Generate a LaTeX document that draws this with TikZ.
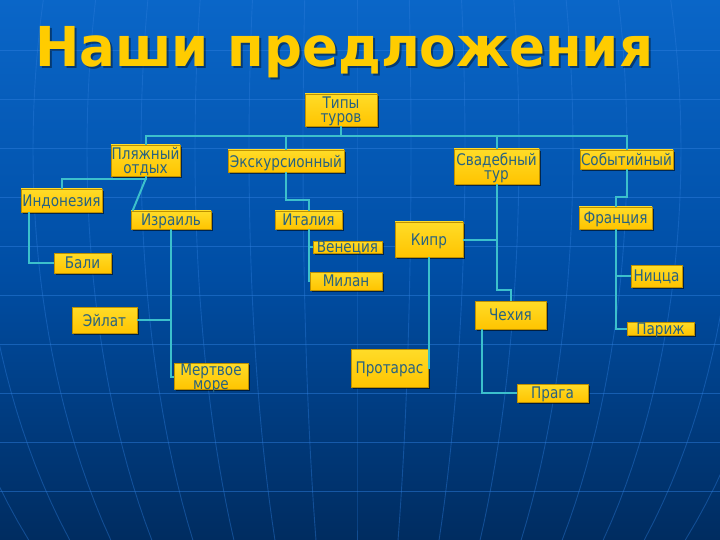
\documentclass[tikz,border=0pt]{standalone}
\usepackage{fontspec}
\setmainfont{DejaVu Sans}
\newfontfamily\boxfont[FakeStretch=0.85]{DejaVu Sans}
\newfontfamily\titlefont[FakeStretch=0.965]{DejaVu Sans}
\usetikzlibrary{shadows}
\definecolor{bgtop}{RGB}{10,102,200}
\definecolor{bgmid}{RGB}{0,78,165}
\definecolor{bgbot}{RGB}{0,44,96}
\definecolor{gridc}{RGB}{45,125,220}
\definecolor{linkc}{RGB}{60,192,204}
\definecolor{boxtop}{RGB}{255,220,40}
\definecolor{boxbot}{RGB}{255,196,0}
\definecolor{boxedge}{RGB}{190,145,0}
\definecolor{boxtext}{RGB}{40,98,128}
\definecolor{titlec}{RGB}{255,204,0}
\tikzset{
  bx/.style={draw=boxedge, line width=0.7pt, top color=boxtop, bottom color=boxbot,
    inner sep=0pt, align=center, text=boxtext, text depth=0pt,
    font=\boxfont\fontsize{16}{14}\selectfont,
    drop shadow={shadow xshift=1.6pt, shadow yshift=-1.6pt, opacity=0.55, fill=black}},
  link/.style={draw=linkc, line width=2pt},
  gridline/.style={draw=gridc, line width=0.9pt, opacity=0.5}
}
\newcommand\bxnode[6]{%
  \node[bx, minimum width={(#4-#2)*1pt}, minimum height={(#5-#3)*1pt}]
    (#1) at ({(#2+#4)/2},{(#3+#5)/2}) {#6};}
\begin{document}
\begin{tikzpicture}[x=1pt,y=-1pt]
\useasboundingbox (0,0) rectangle (720,540);
% background
\shade[top color=bgtop, bottom color=bgbot, middle color=bgmid] (0,0) rectangle (720,540);
\begin{scope}
\clip (0,0) rectangle (720,540);
\foreach \k in {1,...,10} \draw[gridline] (0,{1+49*\k}) -- (720,{1+49*\k});
\foreach \i in {-8,...,8}
  \draw[gridline, opacity=0.4] plot[domain=0:540, samples=30, variable=\t]
    ({357+\i*54*sqrt(1-((\t-150)/600)^2)}, \t);
\end{scope}
% title
\node[anchor=base west, inner sep=0pt, text=black, opacity=0.4,
  font=\titlefont\bfseries\fontsize{55}{55}\selectfont] (titleshadow) at (37,69) {Наши предложения};
\node[anchor=base west, inner sep=0pt, text=titlec,
  font=\titlefont\bfseries\fontsize{55}{55}\selectfont] (title) at (35,67) {Наши предложения};
% connectors
\coordinate (j0) at (341,136);
% boxes
\bxnode{tipy}{305}{94}{377}{126}{Типы\\туров}
\bxnode{plyazh}{111}{145}{180}{176}{Пляжный\\отдых}
\bxnode{ekskurs}{228}{150}{344}{172}{Экскурсионный}
\bxnode{svad}{454}{149}{539}{184}{Свадебный\\тур}
\bxnode{sobyt}{580}{150}{673}{169}{Событийный}
\bxnode{indo}{21}{189}{102}{212}{Индонезия}
\bxnode{israil}{131}{211}{211}{229}{Израиль}
\bxnode{bali}{54}{253}{111}{273}{Бали}
\bxnode{italia}{275}{211}{342}{229}{Италия}
\bxnode{venice}{313}{241}{382}{253}{Венеция}
\bxnode{milan}{310}{272}{382}{290}{Милан}
\bxnode{eilat}{72}{307}{137}{333}{Эйлат}
\bxnode{dead}{174}{364}{248}{389}{Мертвое\\море}
\bxnode{kipr}{395}{222}{463}{257}{Кипр}
\bxnode{chehia}{475}{301}{546}{329}{Чехия}
\bxnode{protaras}{351}{349}{428}{387}{Протарас}
\bxnode{praga}{517}{384}{588}{402}{Прага}
\bxnode{france}{579}{207}{652}{229}{Франция}
\bxnode{nice}{631}{265}{682}{287}{Ницца}
\bxnode{paris}{627}{322}{694}{335}{Париж}
% connectors
\draw[link] (tipy.south) -- (j0);
\draw[link] (plyazh.north) |- (j0) -| (sobyt.north);
\draw[link] (ekskurs.north) -- (ekskurs.north |- j0);
\draw[link] (svad.north) -- (svad.north |- j0);
\draw[link] (plyazh.south) -- ([yshift=-3pt]plyazh.south) -| (indo.north);
\draw[link] ([yshift=-3pt]plyazh.south) -- ([xshift=2pt]israil.north west);
\draw[link] ([xshift=8pt]indo.south west) |- (bali.west);
\draw[link] (ekskurs.south) |- ([yshift=11pt]italia.north) -- (italia.north);
\draw[link] (italia.south) |- (venice.west);
\draw[link] (italia.south) |- (milan.west);
\draw[link] (israil.south) |- (dead.west);
\draw[link] (eilat.east) -- (eilat.east -| israil.south);
\draw[link] (svad.south) |- ([yshift=11pt]chehia.north) -- (chehia.north);
\draw[link] (kipr.east) -- (kipr.east -| svad.south);
\draw[link] (kipr.south) |- (protaras.east);
\draw[link] ([xshift=7pt]chehia.south west) |- (praga.west);
\draw[link] (sobyt.south) |- ([yshift=10pt]france.north) -- (france.north);
\draw[link] (france.south) |- (nice.west);
\draw[link] (france.south) |- (paris.west);
\end{tikzpicture}
\end{document}
